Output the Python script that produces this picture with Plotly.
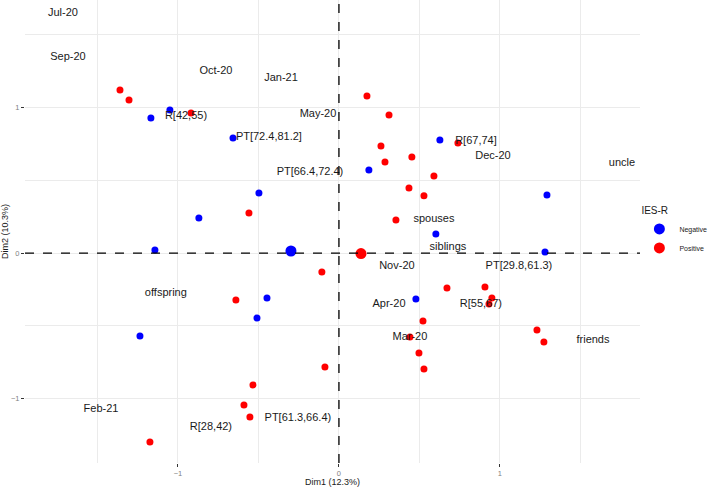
import plotly.graph_objects as go

# ---- data ----
neg_x = [-1.168, -1.050, -0.658, -0.497, -0.870, -1.143, -0.447, -0.509, -1.236,
         0.186, 0.627, 1.292, 0.602, 1.280, 0.478]
neg_y = [0.928, 0.983, 0.790, 0.412, 0.241, 0.021, -0.309, -0.447, -0.570,
         0.570, 0.777, 0.399, 0.131, 0.007, -0.316]

pos_x = [-1.360, -1.304, -0.919, -0.559, 0.174, 0.311, 0.261, 0.739, 0.453, 0.286,
         0.590, 0.435, 0.528, 0.354, -0.106, -0.640, -0.087, -0.534, -0.590, -0.553,
         -1.174, 0.671, 0.907, 0.950, 0.932, 0.522, 0.441, 0.497, 0.528, 1.230, 1.273]
pos_y = [1.120, 1.052, 0.962, 0.275, 1.079, 0.948, 0.735, 0.756, 0.660, 0.625,
         0.530, 0.447, 0.393, 0.227, -0.131, -0.323, -0.784, -0.907, -1.045, -1.127,
         -1.299, -0.241, -0.234, -0.309, -0.351, -0.467, -0.577, -0.687, -0.797, -0.529, -0.612]

neg_mean_x = [-0.298]
neg_mean_y = [0.014]
pos_mean_x = [0.137]
pos_mean_y = [-0.004]

label_text = ["Jul-20", "Sep-20", "Oct-20", "Jan-21", "May-20", "R[42,55)", "PT[72.4,81.2]",
              "PT[66.4,72.4)", "R[67,74]", "Dec-20", "uncle", "spouses", "siblings", "Nov-20",
              "PT[29.8,61.3)", "Apr-20", "R[55,67)", "Mar-20", "friends", "offspring",
              "Feb-21", "R[28,42)", "PT[61.3,66.4)"]
label_x = [-1.714, -1.683, -0.764, -0.360, -0.130, -0.950, -0.435,
           -0.180, 0.851, 0.957, 1.758, 0.590, 0.677, 0.360,
           1.118, 0.311, 0.882, 0.441, 1.578, -1.075,
           -1.478, -0.795, -0.255]
label_y = [1.649, 1.347, 1.251, 1.203, 0.955, 0.942, 0.797,
           0.557, 0.770, 0.667, 0.619, 0.234, 0.041, -0.089,
           -0.089, -0.351, -0.351, -0.577, -0.598, -0.275,
           -1.072, -1.196, -1.134]

x_title = "Dim1 (12.3%)"
y_title = "Dim2 (10.3%)"
legend_title = "IES-R"

FONT = "Liberation Sans, Arial, Helvetica, sans-serif"
BLUE = "#0000FF"
RED = "#FF0000"

fig = go.Figure()

fig.add_trace(go.Scatter(x=neg_x, y=neg_y, mode="markers", showlegend=False,
                         marker=dict(color=BLUE, size=7), hoverinfo="skip"))
fig.add_trace(go.Scatter(x=pos_x, y=pos_y, mode="markers", showlegend=False,
                         marker=dict(color=RED, size=7), hoverinfo="skip"))
fig.add_trace(go.Scatter(x=neg_mean_x, y=neg_mean_y, mode="markers", name="Negative",
                         marker=dict(color=BLUE, size=11), legendrank=1))
fig.add_trace(go.Scatter(x=pos_mean_x, y=pos_mean_y, mode="markers", name="Positive",
                         marker=dict(color=RED, size=11), legendrank=2))
fig.add_trace(go.Scatter(x=label_x, y=label_y, mode="text", text=label_text,
                         textposition="middle center", showlegend=False,
                         textfont=dict(family=FONT, size=11, color="#1a1a1a"), hoverinfo="skip"))

fig.add_hline(y=0, line=dict(color="black", width=1.3, dash="dash"))
fig.add_vline(x=0, line=dict(color="black", width=1.3, dash="dash"))

grid = "#ebebeb"
axis_common = dict(
    dtick=1, tick0=0, showgrid=True, gridcolor=grid, gridwidth=1,
    minor=dict(dtick=0.5, tick0=0, showgrid=True, gridcolor=grid, gridwidth=0.8),
    zeroline=False, showline=False, ticks="outside", ticklen=3, tickcolor="#333333",
    tickfont=dict(family=FONT, size=7.5, color="#7f7f7f"), automargin=False,
)

fig.update_layout(
    width=709, height=487,
    margin=dict(l=25, r=69, t=0, b=24, autoexpand=False),
    paper_bgcolor="white", plot_bgcolor="white",
    font=dict(family=FONT, color="#1a1a1a"),
    xaxis=dict(range=[-1.950, 1.870], title=dict(text=x_title, font=dict(size=9), standoff=1), **axis_common),
    yaxis=dict(range=[-1.443, 1.739], title=dict(text=y_title, font=dict(size=9), standoff=2), **axis_common),
    legend=dict(title=dict(text=legend_title, font=dict(size=10)), x=0.999, xanchor="left",
                y=0.565, yanchor="top", font=dict(size=7), itemsizing="trace",
                bgcolor="rgba(0,0,0,0)", tracegroupgap=0),
)

fig.write_html(
    "out.html",
    config={"responsive": False, "displayModeBar": False},
    post_script="document.body.style.margin='0';document.body.style.overflow='hidden';",
)
